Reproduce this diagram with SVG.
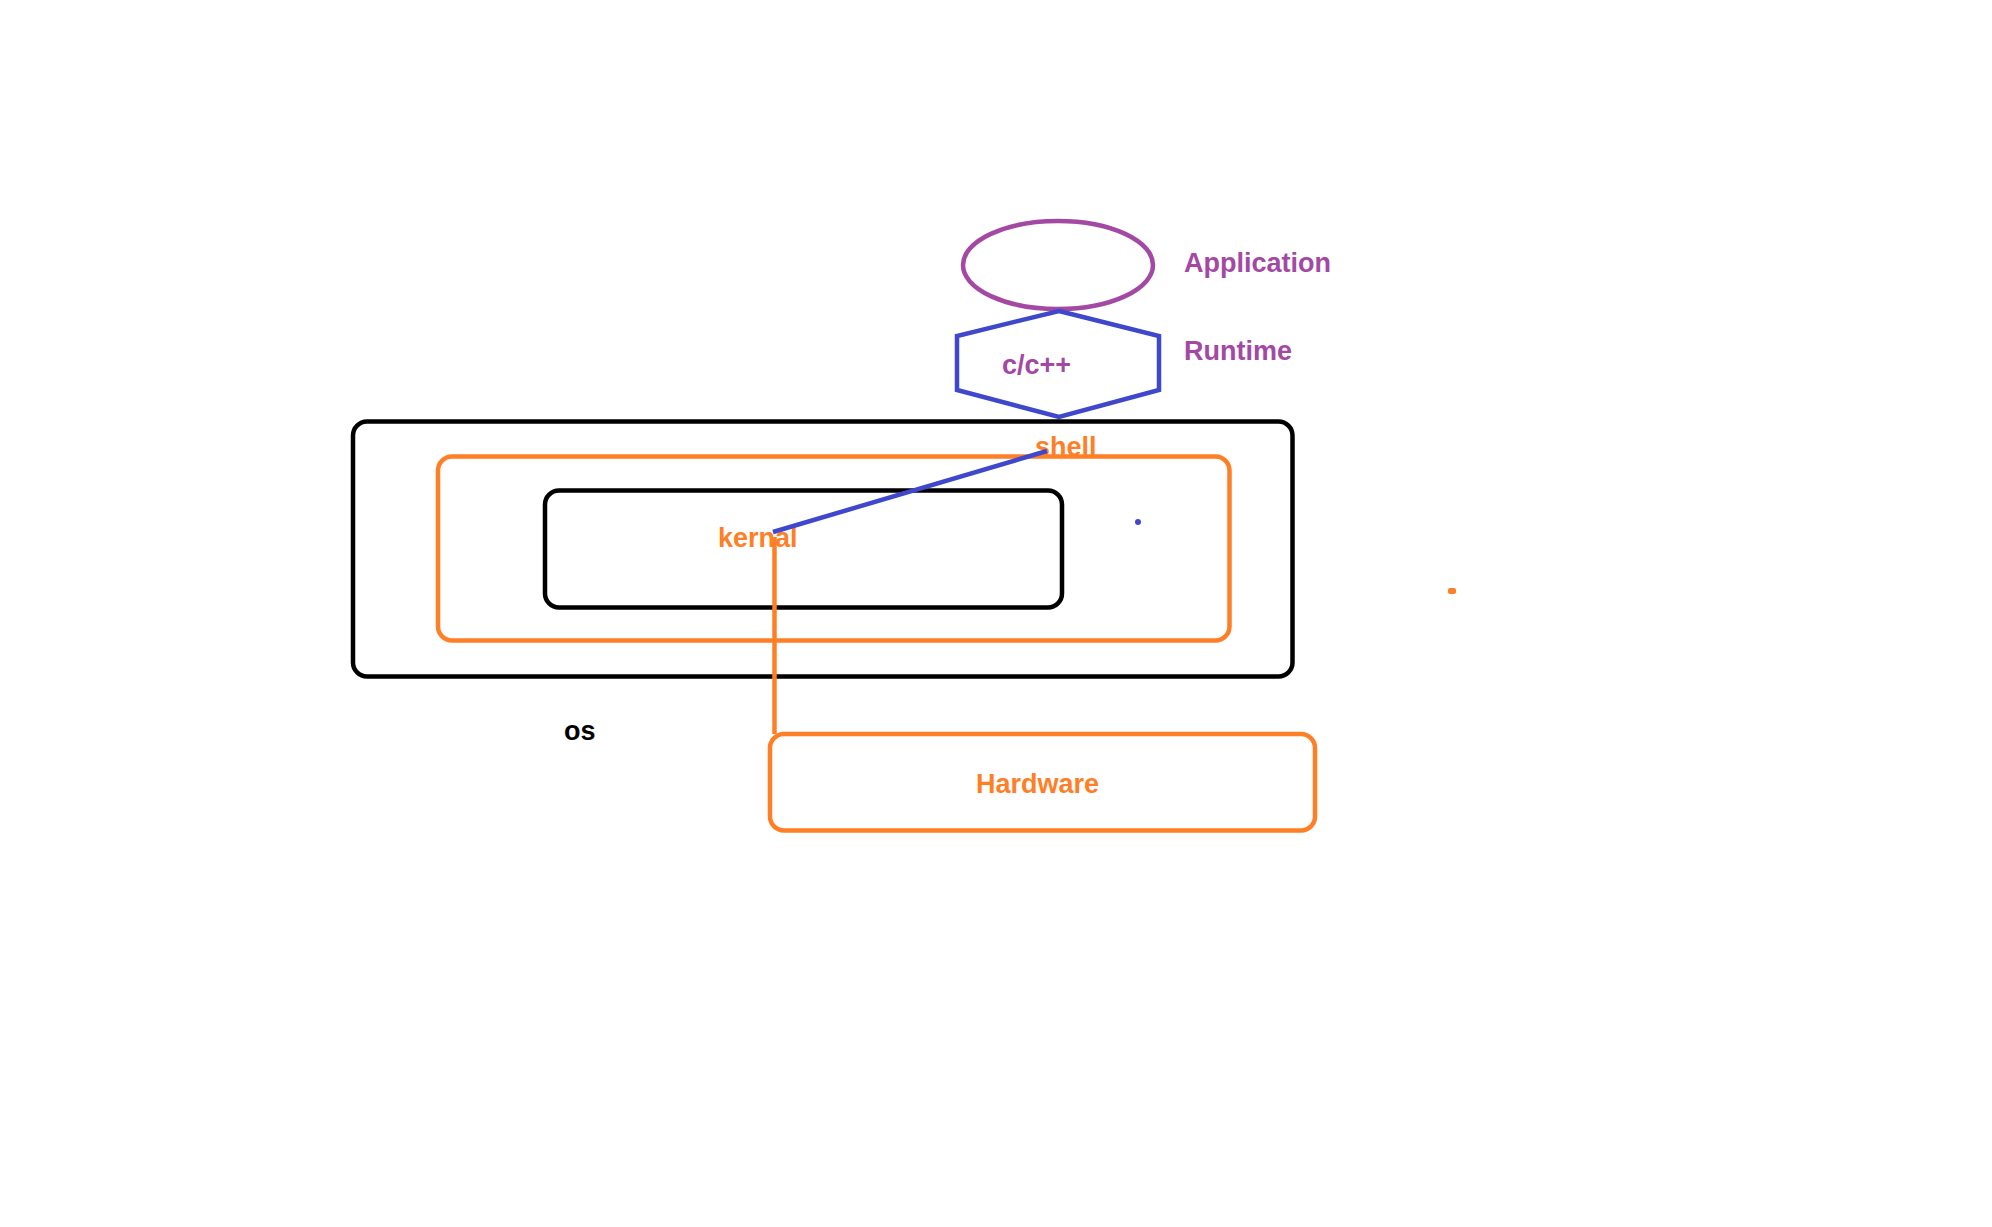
<svg xmlns="http://www.w3.org/2000/svg" width="1992" height="1227" viewBox="0 0 1992 1227">
<style>
.t{font-family:"Liberation Sans",Arial,sans-serif;font-weight:bold;font-size:27px}
.pu{fill:#A349A4}
.or{fill:#FF7F27}
.bk{fill:#000}
.box{fill:none;stroke-width:4.5}
.sk{stroke:#000}
.so{stroke:#FF7F27}
.sb{stroke:#3F48CC}
</style>
<rect width="1992" height="1227" fill="#fff"/>
<g id="application">
<ellipse cx="1058" cy="265" rx="95" ry="44" class="box" stroke="#A349A4"/>
<text x="1184" y="272" class="t pu">Application</text>
</g>
<g id="runtime">
<polygon points="1059,311 1159,336 1159,390 1059,417 957,390 957,336" class="box sb" stroke-linejoin="miter"/>
<text x="1002" y="374" class="t pu">c/c++</text>
<text x="1184" y="360" class="t pu">Runtime</text>
</g>
<g id="os">
<rect x="353" y="421.5" width="939.5" height="255" rx="14" class="box sk"/>
<text x="564" y="740" class="t bk">os</text>
</g>
<g id="shell">
<text x="1035" y="456" class="t or">shell</text>
<rect x="438" y="456.5" width="791.5" height="184" rx="14" class="box so"/>
</g>
<g id="kernal">
<rect x="545" y="490.5" width="517" height="117" rx="14" class="box sk"/>
<text x="718" y="547" class="t or">kernal</text>
</g>
<g id="hardware">
<rect x="770" y="734" width="545" height="96.5" rx="14" class="box so"/>
<text x="976" y="793" class="t or">Hardware</text>
</g>
<g id="connectors">
<line x1="773" y1="532" x2="1047" y2="451" class="box sb"/>
<line x1="774.5" y1="537" x2="774.5" y2="734" class="box so"/>
</g>
<circle cx="1138" cy="522" r="3" fill="#3F48CC"/>
<rect x="1448" y="588" width="8" height="6" rx="2" fill="#FF7F27"/>
</svg>
